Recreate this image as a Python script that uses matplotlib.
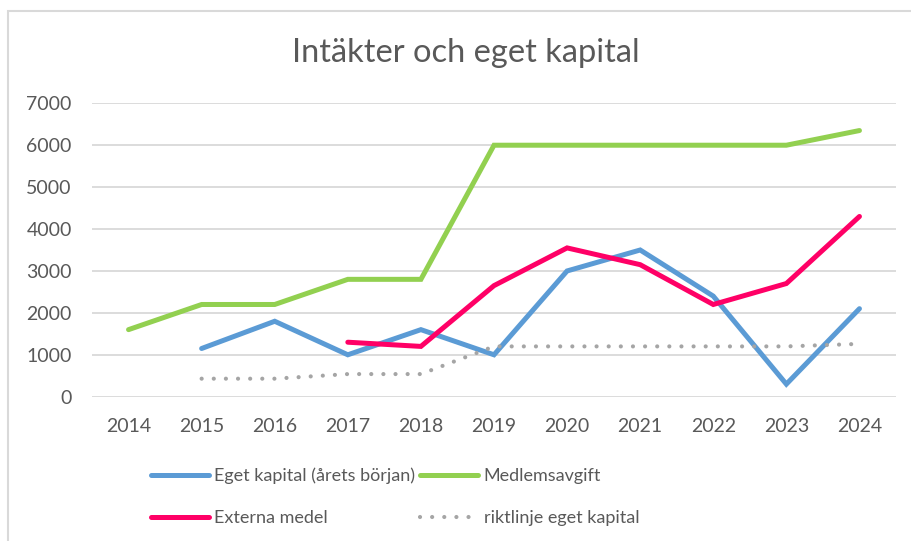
import numpy as np
import matplotlib.pyplot as plt
from matplotlib.patches import Rectangle

plt.rcParams['font.family'] = ['Lato', 'DejaVu Sans']

# data
years = ['2014', '2015', '2016', '2017', '2018', '2019', '2020', '2021', '2022', '2023', '2024']
eget_kapital = [np.nan, 1150, 1800, 1000, 1600, 1000, 3000, 3500, 2400, 300, 2100]
medlemsavgift = [1600, 2200, 2200, 2800, 2800, 6000, 6000, 6000, 6000, 6000, 6350]
externa_medel = [np.nan, np.nan, np.nan, 1300, 1200, 2650, 3550, 3150, 2200, 2700, 4300]
riktlinje = [np.nan, 430, 430, 540, 540, 1200, 1200, 1200, 1200, 1200, 1260]
yticks = [0, 1000, 2000, 3000, 4000, 5000, 6000, 7000]

txt = '#595959'

fig = plt.figure(figsize=(9.11, 5.41), dpi=100)
ax = fig.add_axes([92/911, 1-396.7/541, 804/911, 293.4/541])

x = np.arange(len(years))
l1, = ax.plot(x, eget_kapital, color='#5B9BD5', lw=3.6, solid_capstyle='round', solid_joinstyle='miter')
l2, = ax.plot(x, medlemsavgift, color='#92D050', lw=3.6, solid_capstyle='round', solid_joinstyle='miter')
l3, = ax.plot(x, externa_medel, color='#FF0066', lw=3.6, solid_capstyle='round', solid_joinstyle='miter')
l4, = ax.plot(x, riktlinje, color='#A5A5A5', lw=3.0, linestyle=(0, (0.01, 2.9)), dash_capstyle='round')

ax.set_xlim(-0.5, len(years) - 0.5)
ax.set_ylim(0, 7000)
ax.set_yticks(yticks)
ax.set_yticklabels([str(v) for v in yticks])
ax.set_xticks(x)
ax.set_xticklabels(years)
ax.grid(axis='y', color='#D9D9D9', lw=1.3)
ax.set_axisbelow(True)
for s in ax.spines.values():
    s.set_visible(False)
ax.tick_params(length=0, labelsize=14, colors=txt)
ax.tick_params(axis='y', pad=14.5)
ax.tick_params(axis='x', pad=15)

fig.text(466/911, 1-61.7/541, 'Intäkter och eget kapital', ha='center', va='baseline',
         fontsize=23.5, color=txt)

leg = fig.legend([l1, l3, l2, l4],
                 ['Eget kapital (årets början)', 'Externa medel', 'Medlemsavgift', 'riktlinje eget kapital'],
                 ncol=2, loc='center', bbox_to_anchor=(395/911, 1-497/541), frameon=False,
                 fontsize=13, labelcolor=txt, handlelength=3.2, handletextpad=0.3,
                 columnspacing=0.3, labelspacing=1.45)

# chart area border (cropped at right and bottom)
fig.patches.append(Rectangle((8/911, -0.1), 1.1, 1 - 11/541 + 0.1, transform=fig.transFigure,
                             fill=False, edgecolor='#D9D9D9', lw=1.5))

fig.savefig('out.png', dpi=100)
